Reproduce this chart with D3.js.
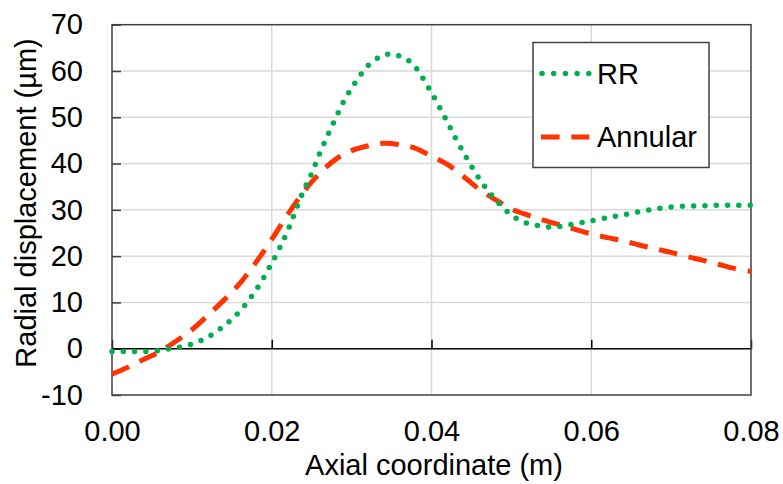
<!DOCTYPE html>
<html>
<head>
<meta charset="utf-8">
<script src="https://cdn.jsdelivr.net/npm/d3@7"></script>
<style>
  body { margin: 0; background: #fff; }
  text { font-family: "Liberation Sans", Arial, sans-serif; fill: #000; }
</style>
</head>
<body>
<svg></svg>
<script>
// ─── DATA ─────────────────────────────────────────────────────────────────────

const rrX = [0, 0.002, 0.004, 0.006, 0.007, 0.008, 0.009, 0.01, 0.011, 0.012, 0.013,
  0.014, 0.015, 0.016, 0.017, 0.018, 0.019, 0.02, 0.021, 0.022, 0.023, 0.024, 0.025,
  0.026, 0.027, 0.028, 0.029, 0.03, 0.031, 0.032, 0.033, 0.034, 0.035, 0.036, 0.037,
  0.038, 0.039, 0.04, 0.041, 0.042, 0.043, 0.044, 0.045, 0.046, 0.047, 0.048, 0.049,
  0.05, 0.051, 0.052, 0.053, 0.054, 0.055, 0.056, 0.057, 0.058, 0.059, 0.06, 0.062,
  0.064, 0.066, 0.068, 0.07, 0.072, 0.074, 0.076, 0.078, 0.08];
const rrY = [-0.6, -0.6, -0.6, -0.4, -0.1, 0.2, 0.5, 1.0, 1.7, 2.5, 3.6,
  4.9, 6.4, 8.1, 10.2, 12.6, 15.4, 18.5, 21.8, 25.5, 29.9, 34.2, 37.9,
  42.2, 46.1, 49.8, 53.4, 56.3, 58.9, 61.1, 62.5, 63.4, 63.7, 63.2, 62.4,
  60.8, 58.2, 55.3, 52.2, 48.9, 45.5, 42.4, 39.4, 36.7, 34.3, 32.2, 30.4,
  28.9, 27.8, 27.1, 26.7, 26.4, 26.3, 26.4, 26.7, 27.0, 27.3, 27.6, 28.3,
  28.9, 29.6, 30.2, 30.6, 30.8, 30.9, 31.0, 31.0, 31.0];

const annX = [0, 0.002, 0.004, 0.006, 0.008, 0.01, 0.012, 0.014, 0.016, 0.018, 0.02,
  0.022, 0.024, 0.026, 0.028, 0.03, 0.032, 0.034, 0.036, 0.038, 0.04, 0.042, 0.044,
  0.046, 0.048, 0.05, 0.052, 0.054, 0.056, 0.058, 0.06, 0.062, 0.064, 0.066, 0.068,
  0.07, 0.072, 0.074, 0.076, 0.078, 0.08];
const annY = [-5.5, -4.0, -2.3, -0.6, 1.6, 4.1, 7.2, 10.5, 14.1, 18.6, 23.6,
  29.0, 33.9, 37.9, 40.9, 42.8, 43.8, 44.4, 44.1, 43.3, 41.6, 39.8, 37.2,
  34.4, 32.2, 30.2, 28.9, 27.8, 26.8, 25.8, 24.8, 24.0, 23.3, 22.4, 21.6,
  20.8, 19.9, 19.1, 18.2, 17.3, 16.7];

const xTicks = [0, 0.02, 0.04, 0.06, 0.08];
const yTicks = [-10, 0, 10, 20, 30, 40, 50, 60, 70];
const seriesNames = ["RR", "Annular"];

// ─── DIMENSIONS & SCALES ──────────────────────────────────────────────────────

const width = 783,
  height = 484,
  plotLeft = 112,
  plotRight = 751,
  plotTop = 24.7,
  plotBottom = 395,
  fontSize = "29px";

const green = "#00b050",
  red = "#ff3300",
  grid = "#d9d9d9",
  frame = "#404040";

const svg = d3.select("svg").attr("width", width).attr("height", height);

const x = d3.scaleLinear().domain([0, 0.08]).range([plotLeft, plotRight]);
const y = d3.scaleLinear().domain([-10, 70]).range([plotBottom, plotTop]);

// ─── GRID ─────────────────────────────────────────────────────────────────────

svg
  .append("g")
  .selectAll("line")
  .data(yTicks.filter((d) => d > -10 && d < 70 && d !== 0))
  .join("line")
  .attr("x1", plotLeft)
  .attr("x2", plotRight)
  .attr("y1", (d) => y(d))
  .attr("y2", (d) => y(d))
  .attr("stroke", grid)
  .attr("stroke-width", 1.5);

svg
  .append("g")
  .selectAll("line")
  .data(xTicks.slice(1, -1))
  .join("line")
  .attr("x1", (d) => x(d))
  .attr("x2", (d) => x(d))
  .attr("y1", plotTop)
  .attr("y2", plotBottom)
  .attr("stroke", grid)
  .attr("stroke-width", 1.5);

// ─── AXES ─────────────────────────────────────────────────────────────────────

const yAxis = svg
  .append("g")
  .attr("transform", `translate(${plotLeft},0)`)
  .call(
    d3.axisLeft(y).tickValues(yTicks).tickSize(-9).tickPadding(29)
      .tickFormat((d) => String(d))
  );
yAxis.select(".domain").remove();
yAxis.selectAll("line").attr("stroke", frame).attr("stroke-width", 1.5);
yAxis
  .selectAll("text")
  .style("font-size", fontSize)
  .style("font-family", '"Liberation Sans", Arial, sans-serif')
  .attr("fill", "#000");

const xAxis = svg
  .append("g")
  .attr("transform", `translate(0,${plotBottom})`)
  .call(
    d3.axisBottom(x).tickValues(xTicks).tickSize(0).tickPadding(25)
      .tickFormat(d3.format(".2f"))
  );
xAxis.select(".domain").remove();
xAxis
  .selectAll("text")
  .style("font-size", fontSize)
  .style("font-family", '"Liberation Sans", Arial, sans-serif')
  .attr("fill", "#000");

// zero line with its upward ticks
svg
  .append("line")
  .attr("x1", plotLeft)
  .attr("x2", plotRight)
  .attr("y1", y(0))
  .attr("y2", y(0))
  .attr("stroke", "#000")
  .attr("stroke-width", 1.5);

const zeroTicks = svg
  .append("g")
  .attr("transform", `translate(0,${y(0)})`)
  .call(d3.axisBottom(x).tickValues(xTicks).tickSize(-9).tickFormat(""));
zeroTicks.select(".domain").remove();
zeroTicks.selectAll("line").attr("stroke", "#000").attr("stroke-width", 1.5);

// plot frame
svg
  .append("rect")
  .attr("x", plotLeft)
  .attr("y", plotTop)
  .attr("width", plotRight - plotLeft)
  .attr("height", plotBottom - plotTop)
  .attr("fill", "none")
  .attr("stroke", frame)
  .attr("stroke-width", 1.5);

// ─── SERIES ───────────────────────────────────────────────────────────────────

const line = d3
  .line()
  .x((d) => x(d[0]))
  .y((d) => y(d[1]))
  .curve(d3.curveCatmullRom.alpha(0.5));

svg
  .append("path")
  .datum(d3.zip(annX, annY))
  .attr("d", line)
  .attr("fill", "none")
  .attr("stroke", red)
  .attr("stroke-width", 5)
  .attr("stroke-dasharray", "18.6 11.7");

svg
  .append("path")
  .datum(d3.zip(rrX, rrY))
  .attr("d", line)
  .attr("fill", "none")
  .attr("stroke", green)
  .attr("stroke-width", 5.5)
  .attr("stroke-linecap", "round")
  .attr("stroke-dasharray", "0 11.3");

// ─── AXIS TITLES ──────────────────────────────────────────────────────────────

svg
  .append("text")
  .attr("x", 434)
  .attr("y", 475)
  .attr("text-anchor", "middle")
  .style("font-size", fontSize)
  .text("Axial coordinate (m)");

svg
  .append("text")
  .attr("transform", "translate(36,203) rotate(-90)")
  .attr("text-anchor", "middle")
  .style("font-size", fontSize)
  .text("Radial displacement (µm)");

// ─── LEGEND ───────────────────────────────────────────────────────────────────

const legend = svg.append("g");

legend
  .append("rect")
  .attr("x", 533)
  .attr("y", 42.5)
  .attr("width", 176)
  .attr("height", 125)
  .attr("fill", "#fff")
  .attr("stroke", frame)
  .attr("stroke-width", 1.5);

legend
  .append("line")
  .attr("x1", 542)
  .attr("x2", 589)
  .attr("y1", 73.5)
  .attr("y2", 73.5)
  .attr("stroke", green)
  .attr("stroke-width", 5.5)
  .attr("stroke-linecap", "round")
  .attr("stroke-dasharray", "0 11.7");

legend
  .append("line")
  .attr("x1", 541)
  .attr("x2", 589.3)
  .attr("y1", 137)
  .attr("y2", 137)
  .attr("stroke", red)
  .attr("stroke-width", 5)
  .attr("stroke-dasharray", "18.6 11.7");

legend
  .selectAll("text")
  .data(seriesNames)
  .join("text")
  .attr("x", 597)
  .attr("y", (d, i) => (i === 0 ? 83.5 : 146.5))
  .style("font-size", fontSize)
  .text((d) => d);
</script>
</body>
</html>
